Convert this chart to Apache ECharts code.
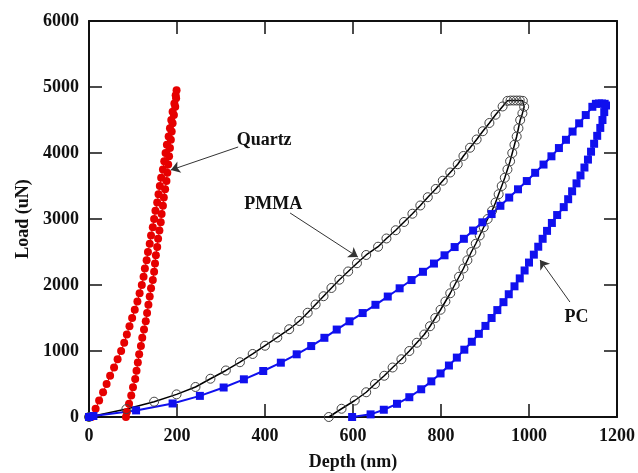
<!DOCTYPE html>
<html>
<head>
<meta charset="utf-8">
<script src="https://cdn.jsdelivr.net/npm/echarts/dist/echarts.min.js"></script>
<style>
html, body { margin: 0; padding: 0; background: #fff; }
#chart { width: 638px; height: 473px; }
</style>
</head>
<body>
<div id="chart"></div>
<script>
// nanoindentation load-depth curves, points are [depth (nm), load (uN)]
const quartzLoad = [[6,0],[15,125],[23,250],[32,375],[40,500],[48,625],[57,750],[65,875],[73,1000],[80,1125],[86,1250],[92,1375],[98,1500],[104,1625],[110,1750],[115,1875],[120,2000],[124,2125],[127,2250],[131,2375],[134,2500],[138,2625],[141,2750],[145,2875],[148,3000],[151,3125],[155,3250],[158,3375],[161,3500],[164,3625],[168,3750],[171,3875],[174,4000],[177,4125],[181,4250],[184,4375],[187,4500],[190,4625],[194,4750],[197,4875],[199,4950]];
const quartzUnload = [[198,4830],[196,4700],[193,4575],[190,4450],[188,4325],[186,4200],[184,4075],[182,3950],[180,3825],[178,3700],[176,3575],[173,3450],[170,3325],[168,3200],[165,3075],[163,2950],[160,2825],[157,2700],[155,2575],[152,2450],[150,2325],[148,2200],[145,2075],[141,1950],[138,1825],[135,1700],[132,1575],[129,1450],[125,1325],[121,1200],[118,1075],[114,950],[111,825],[108,700],[105,575],[100,450],[96,325],[91,200],[86,75],[84,0]];

const pmmaLoad = [[0,0],[85,120],[148,232],[199,343],[242,455],[276,580],[311,705],[343,830],[372,955],[400,1080],[428,1205],[455,1330],[478,1455],[497,1580],[515,1705],[533,1830],[551,1955],[569,2080],[589,2205],[609,2330],[630,2455],[657,2580],[676,2705],[697,2830],[716,2955],[735,3080],[753,3205],[770,3330],[788,3455],[804,3580],[821,3705],[838,3830],[851,3955],[866,4080],[881,4205],[895,4330],[910,4455],[924,4580],[940,4705]];
const pmmaHold = [[951,4790],[958,4795],[965,4795],[972,4795],[979,4795],[986,4790]];
const pmmaUnload = [[989,4700],[985,4600],[980,4500],[976,4375],[972,4250],[967,4125],[962,4000],[957,3875],[951,3750],[945,3625],[938,3500],[931,3375],[924,3250],[916,3125],[906,3000],[897,2875],[888,2750],[879,2625],[869,2500],[860,2375],[851,2250],[841,2125],[831,2000],[821,1875],[810,1750],[799,1625],[787,1500],[775,1375],[762,1250],[745,1125],[728,1000],[710,875],[690,750],[671,625],[650,500],[630,375],[604,250],[574,125],[545,0]];

const pcLoad = [[0,0],[10,15],[107,100],[190,205],[252,320],[306,447],[352,571],[396,697],[436,823],[472,950],[505,1075],[535,1200],[563,1325],[592,1450],[622,1575],[651,1700],[679,1825],[706,1950],[733,2075],[759,2200],[784,2325],[808,2450],[831,2575],[852,2700],[873,2825],[894,2950],[915,3075],[935,3200],[955,3325],[975,3450],[995,3575],[1014,3700],[1033,3825],[1051,3950],[1068,4075],[1084,4200],[1099,4325],[1114,4450],[1129,4575],[1144,4700]];
const pcHold = [[1152,4745],[1159,4750],[1166,4750],[1172,4745]];
const pcUnload = [[1175,4720],[1171,4620],[1167,4500],[1162,4380],[1155,4260],[1148,4140],[1141,4020],[1134,3900],[1126,3780],[1117,3660],[1108,3540],[1098,3420],[1089,3300],[1079,3180],[1064,3060],[1052,2940],[1041,2820],[1031,2700],[1021,2580],[1011,2460],[1000,2340],[990,2220],[979,2100],[967,1980],[954,1860],[942,1740],[928,1620],[915,1500],[901,1380],[886,1260],[870,1140],[853,1020],[836,900],[818,780],[799,660],[778,540],[755,420],[728,300],[700,200],[670,110],[640,40],[598,0]];

// annotation text and arrows (data coordinates)
const labelNames = ['Quartz', 'PMMA', 'PC'];
const labelPos = [[398,4197],[419,3227],[1108,1510]];
const arrowFrom = [[339,4091],[457,3091],[1093,1742]];
const arrowTo = [[186,3742],[611,2424],[1025,2379]];

const font = 'Liberation Serif';
const ink = '#111';

const chart = echarts.init(document.getElementById('chart'));

function frameAxis(pos, min, max, interval, labels) {
    return {
        type: 'value',
        position: pos,
        min: min,
        max: max,
        interval: interval,
        axisLine: { show: true, onZero: false, lineStyle: { color: ink, width: 2 } },
        axisTick: { show: true, inside: true, length: 13, lineStyle: { color: ink, width: 1.5 } },
        axisLabel: {
            show: labels,
            formatter: v => String(v),
            fontFamily: font,
            fontSize: 18,
            fontWeight: 'bold',
            color: ink,
            margin: 10,
            showMinLabel: true,
            showMaxLabel: true
        },
        splitLine: { show: false }
    };
}

const xBottom = frameAxis('bottom', 0, 1200, 200, true);
xBottom.name = 'Depth (nm)';
xBottom.nameLocation = 'middle';
xBottom.nameGap = 36;
xBottom.nameTextStyle = { fontFamily: font, fontSize: 18, fontWeight: 'bold', color: ink };

const yLeft = frameAxis('left', 0, 6000, 1000, true);
yLeft.name = 'Load (uN)';
yLeft.nameLocation = 'middle';
yLeft.nameGap = 55;
yLeft.nameTextStyle = { fontFamily: font, fontSize: 18, fontWeight: 'bold', color: ink };

const arrows = arrowFrom.map((p, i) => [{ coord: p }, { coord: arrowTo[i] }]);
const texts = labelNames.map((n, i) => ({ name: n, coord: labelPos[i] }));

const option = {
    backgroundColor: '#fff',
    animation: false,
    grid: { left: 89, right: 21, top: 21, bottom: 56, outerBoundsMode: 'none' },
    xAxis: [xBottom, frameAxis('top', 0, 1200, 200, false)],
    yAxis: [yLeft, frameAxis('right', 0, 6000, 1000, false)],
    series: [
        {
            name: 'Quartz',
            type: 'line',
            data: quartzLoad.concat(quartzUnload),
            symbol: 'circle',
            symbolSize: 8,
            showAllSymbol: true,
            itemStyle: { color: '#e60000' },
            lineStyle: { color: '#e60000', width: 1 },
            emphasis: { disabled: true },
            markLine: {
                silent: true,
                symbol: ['none', 'arrow'],
                symbolSize: 9,
                lineStyle: { color: '#333', width: 1, type: 'solid' },
                label: { show: false },
                data: arrows
            },
            markPoint: {
                silent: true,
                symbol: 'circle',
                symbolSize: 0,
                label: {
                    show: true,
                    position: 'inside',
                    formatter: '{b}',
                    fontFamily: font,
                    fontSize: 18,
                    fontWeight: 'bold',
                    color: ink
                },
                data: texts
            }
        },
        {
            name: 'PMMA',
            type: 'line',
            data: pmmaLoad.concat(pmmaHold, pmmaUnload),
            symbol: 'circle',
            symbolSize: 9,
            showAllSymbol: true,
            itemStyle: { color: 'rgba(0,0,0,0)', borderColor: '#444', borderWidth: 1 },
            lineStyle: { color: '#000', width: 1.5 },
            emphasis: { disabled: true }
        },
        {
            name: 'PC',
            type: 'line',
            data: pcLoad.concat(pcHold, pcUnload),
            symbol: 'rect',
            symbolSize: 8,
            showAllSymbol: true,
            itemStyle: { color: '#1010ee' },
            lineStyle: { color: '#1010ee', width: 2 },
            emphasis: { disabled: true }
        }
    ]
};

chart.setOption(option);
</script>
</body>
</html>
